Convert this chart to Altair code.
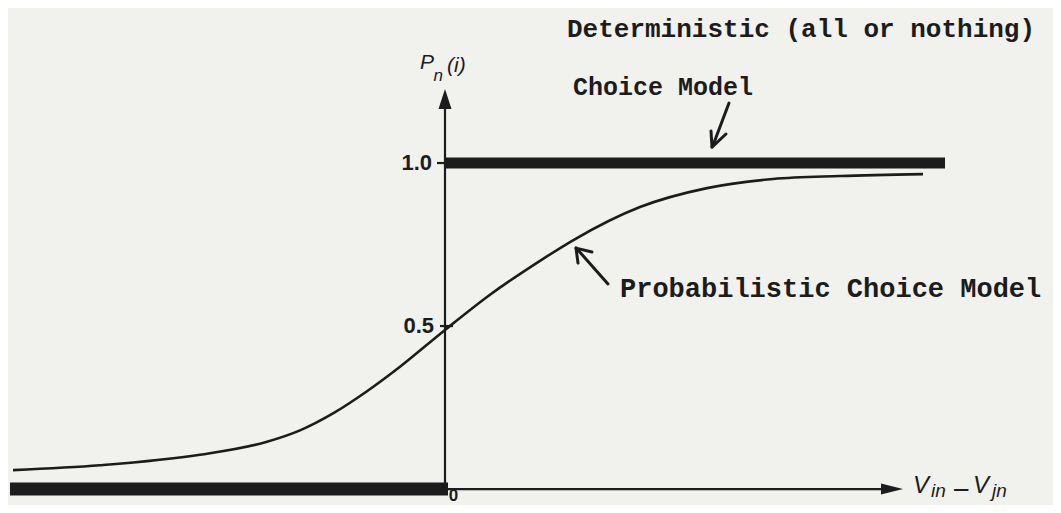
import altair as alt
import pandas as pd

# ---- data (x: V_in - V_jn in arbitrary units, p: P_n(i)) ----
curve_x = [-4.32, -3.45, -2.45, -1.78, -1.45, -1.12, -0.78, -0.45, 0.0,
           0.45, 0.95, 1.28, 1.95, 2.62, 3.28, 3.95, 4.78]
curve_p = [0.058, 0.073, 0.105, 0.145, 0.180, 0.232, 0.300, 0.375, 0.488,
           0.596, 0.700, 0.763, 0.865, 0.923, 0.951, 0.960, 0.966]

step_x_start = [-4.35, 0.0]
step_x_end = [0.03, 5.0]
step_p = [0.0, 1.0]

tick_values = [0.5, 1.0]
tick_labels = ["0.5", "1.0"]
origin_label = "0"

title_lines = ["Deterministic (all or nothing)", "Choice Model"]
curve_label = "Probabilistic Choice Model"

XDOM = [-4.37, 6.08]
PDOM = [-0.049, 1.4755]
INK = "#1c1c1c"


def X(f="x"):
    return alt.X(f"{f}:Q", scale=alt.Scale(domain=XDOM, nice=False, zero=False), axis=None)


def Y(f="p"):
    return alt.Y(f"{f}:Q", scale=alt.Scale(domain=PDOM, nice=False, zero=False), axis=None)


# probabilistic curve
curve = alt.Chart(pd.DataFrame({"x": curve_x, "p": curve_p})).mark_line(
    color=INK, strokeWidth=2.6, interpolate="monotone"
).encode(x=X(), y=Y())

# deterministic step (thick bars)
step_df = pd.DataFrame({"x": step_x_start, "x2": step_x_end, "p": step_p,
                        "w": [13, 11]})
step = alt.Chart(step_df).mark_rule(color=INK, strokeCap="butt").encode(
    x=X(), x2="x2:Q", y=Y(), strokeWidth=alt.StrokeWidth("w:Q", scale=None)
)

# axes lines and ticks
axis_df = pd.DataFrame({
    "x": [0.0, 0.0, -0.08, -0.05],
    "x2": [0.0, 4.45, 0.0, 0.08],
    "p": [-0.005, 0.0, 1.0, 0.5],
    "p2": [1.17, 0.0, 1.0, 0.5],
})
axes = alt.Chart(axis_df).mark_rule(color=INK, strokeWidth=2.2).encode(
    x=X(), x2="x2:Q", y=Y(), y2="p2:Q"
)

# axis arrow heads
y_head = alt.Chart(pd.DataFrame({"x": [0.0], "p": [1.196]})).mark_point(
    shape="M0,-1L0.65,1L-0.65,1Z", filled=True, color=INK, opacity=1, size=400
).encode(x=X(), y=Y())
x_head = alt.Chart(pd.DataFrame({"x": [4.47], "p": [0.0]})).mark_point(
    shape="M1,0L-1,-0.5L-1,0.5Z", filled=True, color=INK, opacity=1, size=484
).encode(x=X(), y=Y())

# annotation arrows (hand drawn)
arrow_df = pd.DataFrame({
    "x": [2.84, 2.67, 2.67, 1.63, 1.31, 1.31],
    "p": [1.184, 1.049, 1.049, 0.629, 0.739, 0.739],
    "x2": [2.69, 2.66, 2.81, 1.33, 1.33, 1.47],
    "p2": [1.062, 1.098, 1.089, 0.733, 0.693, 0.727],
})
arrows = alt.Chart(arrow_df).mark_rule(color=INK, strokeWidth=3, strokeCap="round").encode(
    x=X(), x2="x2:Q", y=Y(), y2="p2:Q"
)

# tick labels
tick_df = pd.DataFrame({"x": [-0.11, -0.13], "p": tick_values, "t": tick_labels})
tick_text = alt.Chart(tick_df).mark_text(
    font="Liberation Sans", fontSize=22, fontWeight="bold", align="right",
    baseline="middle", color=INK
).encode(x=X(), y=Y(), text="t:N")

origin_text = alt.Chart(pd.DataFrame({"x": [0.085], "p": [-0.049], "t": [origin_label]})).mark_text(
    font="Liberation Sans", fontSize=17, fontWeight="bold", align="center",
    baseline="bottom", color=INK
).encode(x=X(), y=Y(), text="t:N")

# typewriter labels
mono_df = pd.DataFrame({"x": [1.22, 1.28], "p": [1.387, 1.209], "t": title_lines})
mono1 = alt.Chart(mono_df.iloc[[0]]).mark_text(
    font="Liberation Mono", fontSize=26, fontWeight="bold", align="left",
    baseline="alphabetic", color=INK
).encode(x=X(), y=Y(), text="t:N")
mono2 = alt.Chart(mono_df.iloc[[1]]).mark_text(
    font="Liberation Mono", fontSize=25, fontWeight="bold", align="left",
    baseline="alphabetic", color=INK
).encode(x=X(), y=Y(), text="t:N")
mono3 = alt.Chart(pd.DataFrame({"x": [1.75], "p": [0.589], "t": [curve_label]})).mark_text(
    font="Liberation Mono", fontSize=27, fontWeight="bold", align="left",
    baseline="alphabetic", color=INK
).encode(x=X(), y=Y(), text="t:N")

# axis titles (italic, with subscripts)
big_it = pd.DataFrame({"x": [-0.25, 0.02, 4.68, 5.28], "p": [1.288, 1.279, -0.0123, -0.0123],
                       "t": ["P", "(i)", "V", "V"], "s": [21, 21, 24, 24]})
small_it = pd.DataFrame({"x": [-0.115, 4.86, 5.47], "p": [1.252, -0.0245, -0.0245],
                         "t": ["n", "in", "jn"], "s": [17, 19, 19]})
it_big = alt.Chart(big_it).mark_text(
    font="Liberation Sans", fontStyle="italic", align="left", baseline="alphabetic", color=INK
).encode(x=X(), y=Y(), text="t:N", size=alt.Size("s:Q", scale=None))
it_small = alt.Chart(small_it).mark_text(
    font="Liberation Sans", fontStyle="italic", align="left", baseline="alphabetic", color=INK
).encode(x=X(), y=Y(), text="t:N", size=alt.Size("s:Q", scale=None))
minus = alt.Chart(pd.DataFrame({"x": [5.065], "p": [-0.003], "t": ["\u2212"]})).mark_text(
    font="DejaVu Sans", fontSize=23, align="left", baseline="middle", color=INK
).encode(x=X(), y=Y(), text="t:N")

chart = alt.layer(
    step, axes, curve, y_head, x_head, arrows, tick_text, origin_text,
    mono1, mono2, mono3, it_big, it_small, minus
).properties(
    width=1045, height=497,
    autosize=alt.AutoSizeParams(type="none"),
    padding={"left": 0, "top": 0, "right": 0, "bottom": 0},
    background="#f1f1ee",
).configure_view(stroke=None)

chart.save("out.html", embed_options={"renderer": "svg", "actions": False})
